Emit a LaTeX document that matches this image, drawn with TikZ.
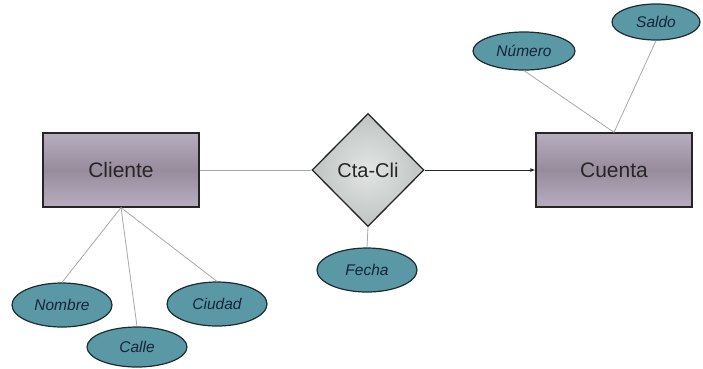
\documentclass[tikz,border=0pt]{standalone}
\usepackage{fontspec}
\setmainfont{Liberation Sans}
\usetikzlibrary{shapes.geometric,arrows.meta}
\definecolor{entfill}{HTML}{B8ADBF}
\definecolor{entmid}{HTML}{978C9C}
\definecolor{attrfill}{HTML}{5A98A6}
\definecolor{attrtext}{HTML}{16243A}
\definecolor{attrline}{HTML}{1A2C32}
\definecolor{relfill}{HTML}{BFC4C3}
\definecolor{relmid}{HTML}{E2E5E4}
\definecolor{linegray}{HTML}{A8A8A8}
\begin{document}
\begin{tikzpicture}[x=1pt,y=-1pt,
  entity/.style={draw=black!85, line width=1.3pt, minimum width=156pt, minimum height=74pt,
    top color=entfill, bottom color=entfill, middle color=entmid,
    font=\fontsize{21}{24}\selectfont, text=black!85, inner sep=0pt},
  relation/.style={diamond, aspect=1, draw=black!85, line width=1.3pt, minimum width=112pt, minimum height=113pt,
    inner color=relmid, outer color=relfill,
    font=\fontsize{20}{24}\selectfont, text=black!85, inner sep=0pt},
  attr/.style={ellipse, draw=attrline, line width=1.2pt, fill=attrfill, minimum width=100pt, minimum height=44pt,
    font=\itshape\fontsize{15.5}{18}\selectfont, text=attrtext, inner sep=0pt},
  link/.style={draw=linegray, line width=0.8pt},
  arrowlink/.style={draw=black!85, line width=0.9pt, -{Latex[length=5pt,width=4pt]}}
]
\useasboundingbox (0,0) rectangle (703,368);
\node[entity] (cliente) at (121,170) {Cliente};
\node[entity] (cuenta) at (614,170) {Cuenta};
\node[relation] (ctacli) at (368,170) {Cta-Cli};
\node[attr, minimum width=102pt, minimum height=38pt] (numero) at (524,51) {Número};
\node[attr, minimum width=88pt, minimum height=36pt] (saldo) at (656,22) {Saldo};
\node[attr] (nombre) at (62,305) {Nombre};
\node[attr, minimum height=40pt] (calle) at (137,347) {Calle};
\node[attr] (ciudad) at (217,304) {Ciudad};
\node[attr] (fecha) at (367,270) {Fecha};
\draw[link] (cliente.east) -- (ctacli.west);
\draw[arrowlink] (ctacli.east) -- (cuenta.west);
\draw[link] (ctacli.south) -- (fecha.north);
\draw[link] (cliente.south) -- (nombre.north);
\draw[link] (cliente.south) -- (calle.north);
\draw[link] (cliente.south) -- (ciudad.north);
\draw[link] (cuenta.north) -- (numero.south);
\draw[link] (cuenta.north) -- (saldo.south);
\end{tikzpicture}
\end{document}
